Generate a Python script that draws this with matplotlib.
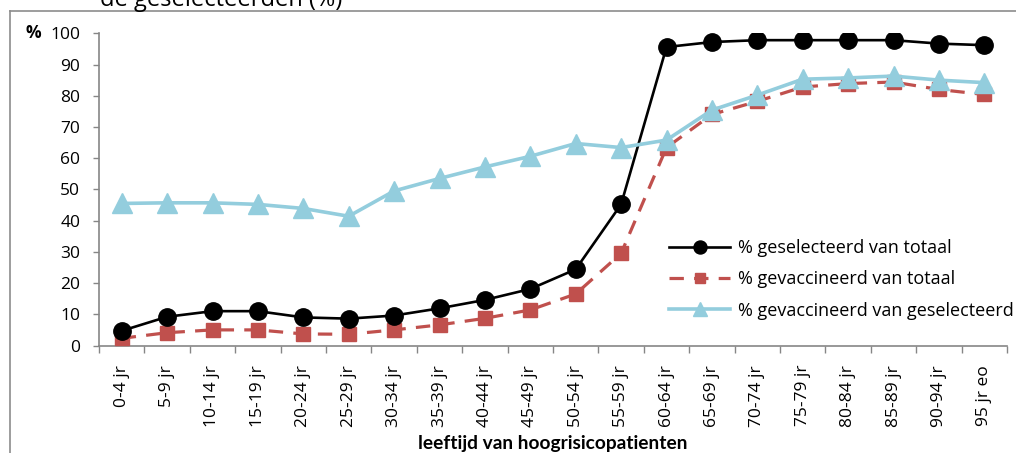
import matplotlib
matplotlib.use("Agg")
import matplotlib.pyplot as plt
from matplotlib.lines import Line2D

plt.rcParams['font.family'] = ['Open Sans', 'DejaVu Sans']

# Age groups of high-risk patients
age_groups = ["0-4 jr", "5-9 jr", "10-14 jr", "15-19 jr", "20-24 jr", "25-29 jr",
              "30-34 jr", "35-39 jr", "40-44 jr", "45-49 jr", "50-54 jr", "55-59 jr",
              "60-64 jr", "65-69 jr", "70-74 jr", "75-79 jr", "80-84 jr", "85-89 jr",
              "90-94 jr", "95 jr eo"]

# Percentages per age group
selected_of_total = [4.7, 9.2, 11.0, 11.0, 9.0, 8.6, 9.6, 11.9, 14.6, 18.1, 24.4, 45.2,
                     95.6, 97.2, 97.8, 97.8, 97.8, 97.8, 96.7, 96.2]
vaccinated_of_total = [2.3, 4.1, 5.0, 5.0, 3.7, 3.6, 5.0, 6.6, 8.7, 11.4, 16.5, 29.5,
                       63.4, 74.0, 78.2, 82.8, 83.9, 84.4, 82.0, 80.4]
vaccinated_of_selected = [45.5, 45.7, 45.7, 45.2, 43.9, 41.4, 49.5, 53.5, 57.2, 60.6, 64.7, 63.4,
                          65.8, 75.4, 80.2, 85.3, 85.7, 86.3, 85.0, 84.2]

series_labels = ["% geselecteerd van totaal", "% gevaccineerd van totaal",
                 "% gevaccineerd van geselecteerd"]
title_text = "de geselecteerden (%)"
xlabel_text = "leeftijd van hoogrisicopatienten"

W, H = 1016, 453
fig = plt.figure(figsize=(W / 100, H / 100), dpi=100)
fig.patch.set_facecolor("white")

ax_left, ax_right = 99 / W, 1007 / W
ax_bottom, ax_top = (H - 345.5) / H, (H - 33.3) / H
ax = fig.add_axes([ax_left, ax_bottom, ax_right - ax_left, ax_top - ax_bottom])

grey = "#868686"
x = list(range(len(age_groups)))

ax.plot(x, selected_of_total, color="black", lw=1.9, marker="o", ms=12.5,
        mfc="black", mec="black", label=series_labels[0], zorder=4)
ax.plot(x, vaccinated_of_total, color="#C0504D", lw=2.3, ls=(0, (4.5, 3.2)),
        marker="s", ms=10, mfc="#C0504D", mec="#C0504D", label=series_labels[1], zorder=3)
ax.plot(x, vaccinated_of_selected, color="#93CDDD", lw=2.6, marker="^", ms=14,
        mfc="#93CDDD", mec="#93CDDD", label=series_labels[2], zorder=5)

ax.set_xlim(-0.5, len(age_groups) - 0.5)
ax.set_ylim(0, 100)
ax.set_yticks(range(0, 101, 10))
ax.tick_params(axis="y", direction="out", length=4.5, width=1, color=grey,
               labelsize=12.5, pad=9, labelcolor="black")

# category labels at centres, tick marks on the boundaries
ax.set_xticks(x)
ax.set_xticklabels(age_groups, rotation=90, fontsize=12.5)
ax.tick_params(axis="x", which="major", length=0, pad=14)
ax.set_xticks([i - 0.5 for i in range(len(age_groups) + 1)], minor=True)
ax.tick_params(axis="x", which="minor", direction="out", length=5, width=1, color=grey)

for side in ("top", "right"):
    ax.spines[side].set_visible(False)
for side in ("left", "bottom"):
    ax.spines[side].set_color(grey)
    ax.spines[side].set_linewidth(1.2)

fig.text(33 / W, 1 - 33.3 / H, "%", ha="center", va="center", fontsize=12.5,
         fontweight="bold")

ax_mid = (ax_left + ax_right) / 2
fig.text(ax_mid, 1 - 444 / H, xlabel_text, ha="center", va="center", fontsize=13.8,
         fontweight="bold", family=["Lato", "DejaVu Sans"])

fig.text(221 / W, 1 - 5.5 / H, title_text, ha="center", va="baseline", fontsize=17)

leg = ax.legend(loc="upper left", bbox_to_anchor=(669 / W, 1 - 239 / H),
                bbox_transform=fig.transFigure, frameon=False, fontsize=13,
                handlelength=3.4, handletextpad=0.4, labelspacing=0.74, borderpad=0,
                borderaxespad=0, numpoints=1, markerscale=0.75)

# chart area border
fig.add_artist(Line2D([9.5 / W, 9.5 / W], [0, 1 - 10.5 / H], transform=fig.transFigure,
                      color="#8c8c8c", lw=1.2))
fig.add_artist(Line2D([9.5 / W, 1], [1 - 10.5 / H, 1 - 10.5 / H], transform=fig.transFigure,
                      color="#8c8c8c", lw=1.2))

fig.savefig("out.png", dpi=100)
